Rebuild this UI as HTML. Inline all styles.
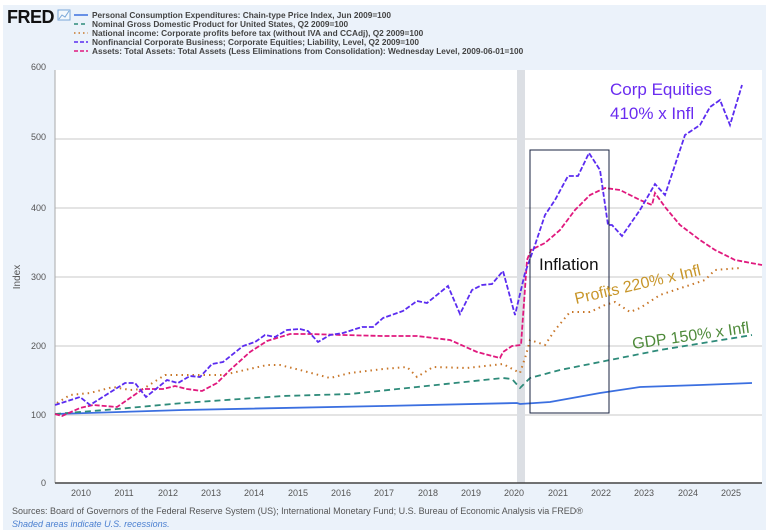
<!DOCTYPE html>
<html><head><meta charset="utf-8"><style>
body{margin:0;background:#fff}
svg{display:block;font-family:"Liberation Sans",sans-serif}
</style></head><body>
<svg width="768" height="530" viewBox="0 0 768 530">
<rect x="0" y="0" width="768" height="530" fill="#fff"/>
<rect x="3" y="5" width="763" height="525" fill="#ebf2fa"/>
<text x="7" y="23" font-size="18" font-weight="bold" fill="#111" letter-spacing="-0.5">FRED</text>
<g stroke="#7aa7d8" fill="none" stroke-width="1"><rect x="58" y="10" width="12" height="10" fill="#f4f8fc"/><polyline points="59,19 62,15 65,17 69,11"/></g>
<g font-size="8.3" font-weight="bold" fill="#444">
<line x1="74" y1="15" x2="88" y2="15" stroke="#3b6fe0" stroke-width="1.5"/><text x="92" y="18">Personal Consumption Expenditures: Chain-type Price Index, Jun 2009=100</text>
<line x1="74" y1="24" x2="88" y2="24" stroke="#2e8b7a" stroke-width="1.5" stroke-dasharray="4,3"/><text x="92" y="27">Nominal Gross Domestic Product for United States, Q2 2009=100</text>
<line x1="74" y1="33" x2="88" y2="33" stroke="#c8772a" stroke-width="1.5" stroke-dasharray="1.5,3"/><text x="92" y="36">National income: Corporate profits before tax (without IVA and CCAdj), Q2 2009=100</text>
<line x1="74" y1="42" x2="88" y2="42" stroke="#5b2cf0" stroke-width="1.5" stroke-dasharray="4,2"/><text x="92" y="45">Nonfinancial Corporate Business; Corporate Equities; Liability, Level, Q2 2009=100</text>
<line x1="74" y1="51" x2="88" y2="51" stroke="#e0197e" stroke-width="1.5" stroke-dasharray="4,2"/><text x="92" y="54">Assets: Total Assets: Total Assets (Less Eliminations from Consolidation): Wednesday Level, 2009-06-01=100</text>
</g>
<rect x="55" y="70" width="707" height="413" fill="#fff"/>
<g stroke="#d4d4d4" stroke-width="1.3">
<line x1="55" y1="139" x2="762" y2="139"/><line x1="55" y1="208" x2="762" y2="208"/>
<line x1="55" y1="277" x2="762" y2="277"/><line x1="55" y1="346" x2="762" y2="346"/>
<line x1="55" y1="415" x2="762" y2="415"/>
</g>
<rect x="517" y="70" width="8" height="413" fill="#dcdfe4"/>
<line x1="55" y1="70" x2="55" y2="483" stroke="#aaa" stroke-width="1"/>
<line x1="55" y1="483" x2="762" y2="483" stroke="#444" stroke-width="1.5"/>
<g font-size="9" fill="#555" text-anchor="end">
<text x="46" y="70">600</text><text x="46" y="140">500</text><text x="46" y="211">400</text>
<text x="46" y="280">300</text><text x="46" y="349">200</text><text x="46" y="418">100</text><text x="46" y="486">0</text>
</g>
<text x="20" y="277" font-size="10" fill="#555" transform="rotate(-90 20 277)" text-anchor="middle">Index</text>
<g font-size="9" fill="#555" text-anchor="middle">
<text x="81" y="496">2010</text><text x="124" y="496">2011</text><text x="168" y="496">2012</text><text x="211" y="496">2013</text>
<text x="254" y="496">2014</text><text x="298" y="496">2015</text><text x="341" y="496">2016</text><text x="384" y="496">2017</text>
<text x="428" y="496">2018</text><text x="471" y="496">2019</text><text x="514" y="496">2020</text><text x="558" y="496">2021</text>
<text x="601" y="496">2022</text><text x="644" y="496">2023</text><text x="688" y="496">2024</text><text x="731" y="496">2025</text>
</g>
<g fill="none" stroke-width="1.8">
<polyline stroke="#3b6fe0" points="55,414 183,410 383,406 517,403 520,404 550,402 600,393 640,387 700,385 752,383"/>
<polyline stroke="#2e8b7a" stroke-dasharray="6,4" points="55,414 117,409 183,403 283,396 350,394 417,387 503,378 512,379 520,388 530,378 560,370 610,360 660,350 740,337 752,335"/>
<polyline stroke="#c8772a" stroke-dasharray="1.5,4" stroke-width="2" points="57,403 70,395 90,393 113,387 130,390 143,389 165,375 190,375 223,375 267,365 280,365 300,370 330,378 350,373 383,369 407,367 417,377 433,367 467,368 503,364 520,373 526,355 530,340 545,345 555,330 570,312 590,312 605,305 615,302 630,312 640,308 660,295 690,285 705,280 715,270 740,268"/>
<polyline stroke="#e0197e" stroke-dasharray="5,2" points="55,414 62,416 80,408 93,405 117,407 143,389 163,389 175,386 187,389 202,391 217,383 230,370 250,352 267,341 290,334 310,334 343,335 383,336 417,336 450,340 477,352 500,358 503,352 512,346 521,345 527,260 531,250 545,243 560,230 575,210 590,195 605,188 620,190 640,200 652,205 655,193 665,207 680,225 700,240 715,250 735,260 762,265"/>
<polyline stroke="#5b2cf0" stroke-dasharray="5,2" points="55,405 80,397 90,405 125,383 135,383 146,397 167,380 178,383 190,376 200,377 212,364 223,362 243,346 255,342 265,335 275,337 287,330 300,329 308,331 318,342 330,335 343,333 362,327 373,327 383,318 403,311 417,301 427,303 448,286 460,314 472,290 482,285 492,284 503,271 515,315 525,273 535,245 545,215 555,200 568,176 578,176 589,153 600,170 608,225 612,225 622,236 640,210 655,184 665,195 685,135 700,125 710,107 720,100 730,125 742,85"/>
</g>
<rect x="530" y="150" width="79" height="263" fill="none" stroke="#1a2340" stroke-width="1"/>
<g font-size="17" font-family="'Liberation Sans',sans-serif">
<text x="610" y="95" fill="#6a2cf0">Corp Equities</text>
<text x="610" y="119" fill="#6a2cf0">410% x Infl</text>
<text x="539" y="270" fill="#111">Inflation</text>
<text x="576" y="304" fill="#c8962a" font-size="16" transform="rotate(-13 576 304)">Profits 220% x Infl</text>
<text x="633" y="349" fill="#4e8a3a" font-size="16" transform="rotate(-8 633 349)">GDP 150% x Infl</text>
</g>
<text x="12" y="514" font-size="9" fill="#555">Sources: Board of Governors of the Federal Reserve System (US); International Monetary Fund; U.S. Bureau of Economic Analysis via FRED®</text>
<text x="12" y="527" font-size="9" fill="#4a7fd0" font-style="italic">Shaded areas indicate U.S. recessions.</text>
</svg>
</body></html>
